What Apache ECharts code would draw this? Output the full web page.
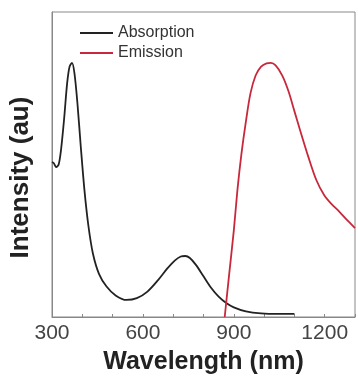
<!DOCTYPE html>
<html>
<head>
<meta charset="utf-8">
<script src="https://cdn.jsdelivr.net/npm/echarts@6/dist/echarts.min.js"></script>
<style>html,body{margin:0;padding:0;background:#fff}#c{width:358px;height:383px}</style>
</head>
<body>
<div id="c"></div>
<script>
const absWavelength = [300, 306, 314, 322, 330, 340, 350, 358, 366, 374, 384, 395, 407, 420, 435, 455, 480, 510, 546, 580, 615, 650, 680, 705, 725, 740, 755, 775, 800, 825, 850, 875, 900, 940, 990, 1050, 1100];
const absIntensity  = [0.61, 0.605, 0.59, 0.60, 0.66, 0.78, 0.92, 0.985, 1.0, 0.96, 0.84, 0.67, 0.50, 0.36, 0.25, 0.17, 0.12, 0.085, 0.067, 0.074, 0.10, 0.145, 0.19, 0.222, 0.238, 0.24, 0.232, 0.205, 0.16, 0.115, 0.08, 0.055, 0.038, 0.022, 0.014, 0.012, 0.012];
const emWavelength = [870, 884, 900, 912, 925, 940, 955, 972, 990, 1008, 1022, 1038, 1060, 1080, 1100, 1120, 1146, 1172, 1198, 1222, 1248, 1275, 1300];
const emIntensity  = [0.0, 0.16, 0.34, 0.50, 0.64, 0.77, 0.88, 0.95, 0.985, 0.998, 1.0, 0.99, 0.95, 0.89, 0.81, 0.73, 0.63, 0.54, 0.48, 0.445, 0.415, 0.38, 0.35];
const xTickLabels = [300, 600, 900, 1200];
const seriesNames = ['Absorption', 'Emission'];

const chart = echarts.init(document.getElementById('c'), null, {renderer: 'canvas'});
const zip = (a, b) => a.map((v, i) => [v, b[i]]);
chart.setOption({
  animation: false,
  grid: {left: 52, top: 12, right: 1, bottom: 66, show: true, borderColor: '#888', borderWidth: 1},
  legend: {
    orient: 'vertical', left: 75, top: 20, itemWidth: 33, itemHeight: 2, itemGap: 4, icon: 'rect',
    textStyle: {fontFamily: 'Liberation Sans', fontSize: 16, lineHeight: 16, color: '#333'},
    data: seriesNames
  },
  xAxis: {
    type: 'value', min: 300, max: 1300, interval: 100,
    name: 'Wavelength (nm)', nameLocation: 'middle', nameGap: 33,
    nameTextStyle: {fontFamily: 'Liberation Sans', fontSize: 25, fontWeight: 'bold', color: '#222'},
    axisLine: {lineStyle: {color: '#888'}},
    axisTick: {inside: true, length: 3, lineStyle: {color: '#888'}},
    axisLabel: {
      fontFamily: 'Liberation Sans', fontSize: 21, color: '#444', margin: 6,
      formatter: v => (xTickLabels.indexOf(v) >= 0 ? String(v) : '')
    },
    splitLine: {show: false}
  },
  yAxis: {
    type: 'value', min: 0, max: 1.2,
    name: 'Intensity (au)', nameLocation: 'middle', nameGap: 18,
    nameTextStyle: {fontFamily: 'Liberation Sans', fontSize: 26, fontWeight: 'bold', color: '#222', padding: [0, 26, 0, 0]},
    axisLine: {show: true, lineStyle: {color: '#888'}},
    axisTick: {show: false}, axisLabel: {show: false}, splitLine: {show: false}
  },
  series: [
    {name: seriesNames[0], type: 'line', data: zip(absWavelength, absIntensity), smooth: 0.3,
     showSymbol: false, symbol: 'none', lineStyle: {color: '#222', width: 1.8}, itemStyle: {color: '#222'}},
    {name: seriesNames[1], type: 'line', data: zip(emWavelength, emIntensity), smooth: 0.3,
     showSymbol: false, symbol: 'none', lineStyle: {color: '#c8283c', width: 1.8}, itemStyle: {color: '#c8283c'}}
  ]
});
</script>
</body>
</html>
